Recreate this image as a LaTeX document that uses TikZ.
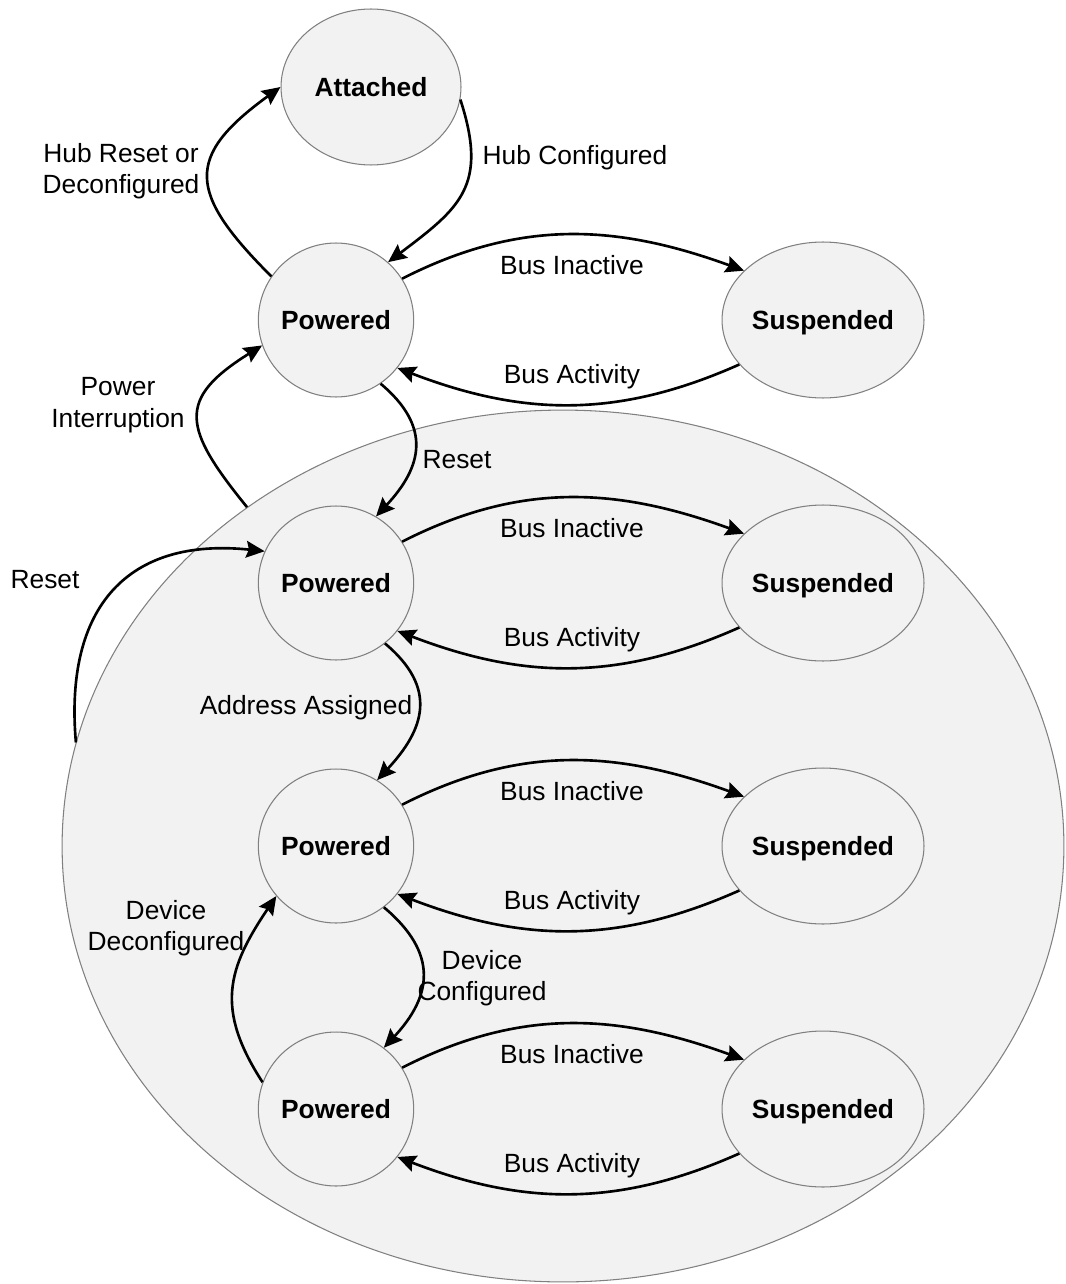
\documentclass[tikz,border=0pt]{standalone}
\usepackage{fontspec}
\setmainfont{Liberation Sans}
\usetikzlibrary{shapes.geometric,arrows.meta}
\definecolor{stategray}{RGB}{242,242,242}
\definecolor{rimgray}{RGB}{128,128,128}

\begin{document}
\begin{tikzpicture}[x=0.02cm,y=0.02cm,font=\fontsize{15}{18}\selectfont,
    state/.style={ellipse,draw=rimgray,fill=stategray,line width=0.6pt,inner sep=0pt,
      text depth=0pt,font=\fontsize{15}{18}\selectfont\bfseries},
    powered/.style={state,minimum width=3.08cm,minimum height=3.08cm},
    suspended/.style={state,minimum width=4.04cm,minimum height=3.12cm},
    trans/.style={line width=1.5pt,-{Stealth[length=10.5pt,width=9.5pt,inset=1.5pt]}},
    lbl/.style={align=center}]
  \useasboundingbox (0,0) rectangle (1065,-1284);

  \node[state,minimum width=20.04cm,minimum height=17.44cm] (outer) at (563,-846) {};
  \node[state,minimum width=3.6cm,minimum height=3.12cm] (att) at (371,-87) {Attached};

  \foreach \i/\y in {1/320,2/583,3/846,4/1109} {
    \node[powered] (p\i) at (336,-\y) {Powered};
    \node[suspended] (s\i) at (823,-\y) {Suspended};
    \draw[trans] (p\i.32) to[out=27,in=160] (s\i.148);
    \draw[trans] (s\i.208) to[out=204,in=339] (p\i.322);
    \node[lbl] at (572,{-\y+55}) {Bus Inactive};
    \node[lbl] at (572,{-\y-57}) {Bus Activity};
  }

  \draw[trans] (p1.146) to[out=135,in=216,looseness=1.6] (att.180);
  \draw[trans] (att.352) to[out=-72,in=37,looseness=1.3] (p1.48);
  \draw[trans] (p1.305) to[out=-40,in=47,looseness=1.3] (p2.59);
  \draw[trans] (outer.133) to[out=129,in=212,looseness=1.6] (p1.199);
  \draw[trans] (outer.168) to[out=95,in=174,looseness=1.3] (p2.156);
  \draw[trans] (p2.309) to[out=-40,in=47,looseness=1.3] (p3.58);
  \draw[trans] (p3.308) to[out=-40,in=47,looseness=1.3] (p4.52);
  \draw[trans] (p4.160) to[out=123,in=236,looseness=1.2] (p3.220);

  \node[lbl] at (121,-171) {Hub Reset or\\Deconfigured};
  \node[lbl] at (575,-158) {Hub Configured};
  \node[lbl] at (118,-405) {Power\\Interruption};
  \node[lbl] at (457,-460) {Reset};
  \node[lbl] at (45,-580) {Reset};
  \node[lbl] at (306,-708) {Address Assigned};
  \node[lbl] at (166,-928) {Device\\Deconfigured};
  \node[lbl] at (482,-978) {Device\\Configured};

\end{tikzpicture}
\end{document}
